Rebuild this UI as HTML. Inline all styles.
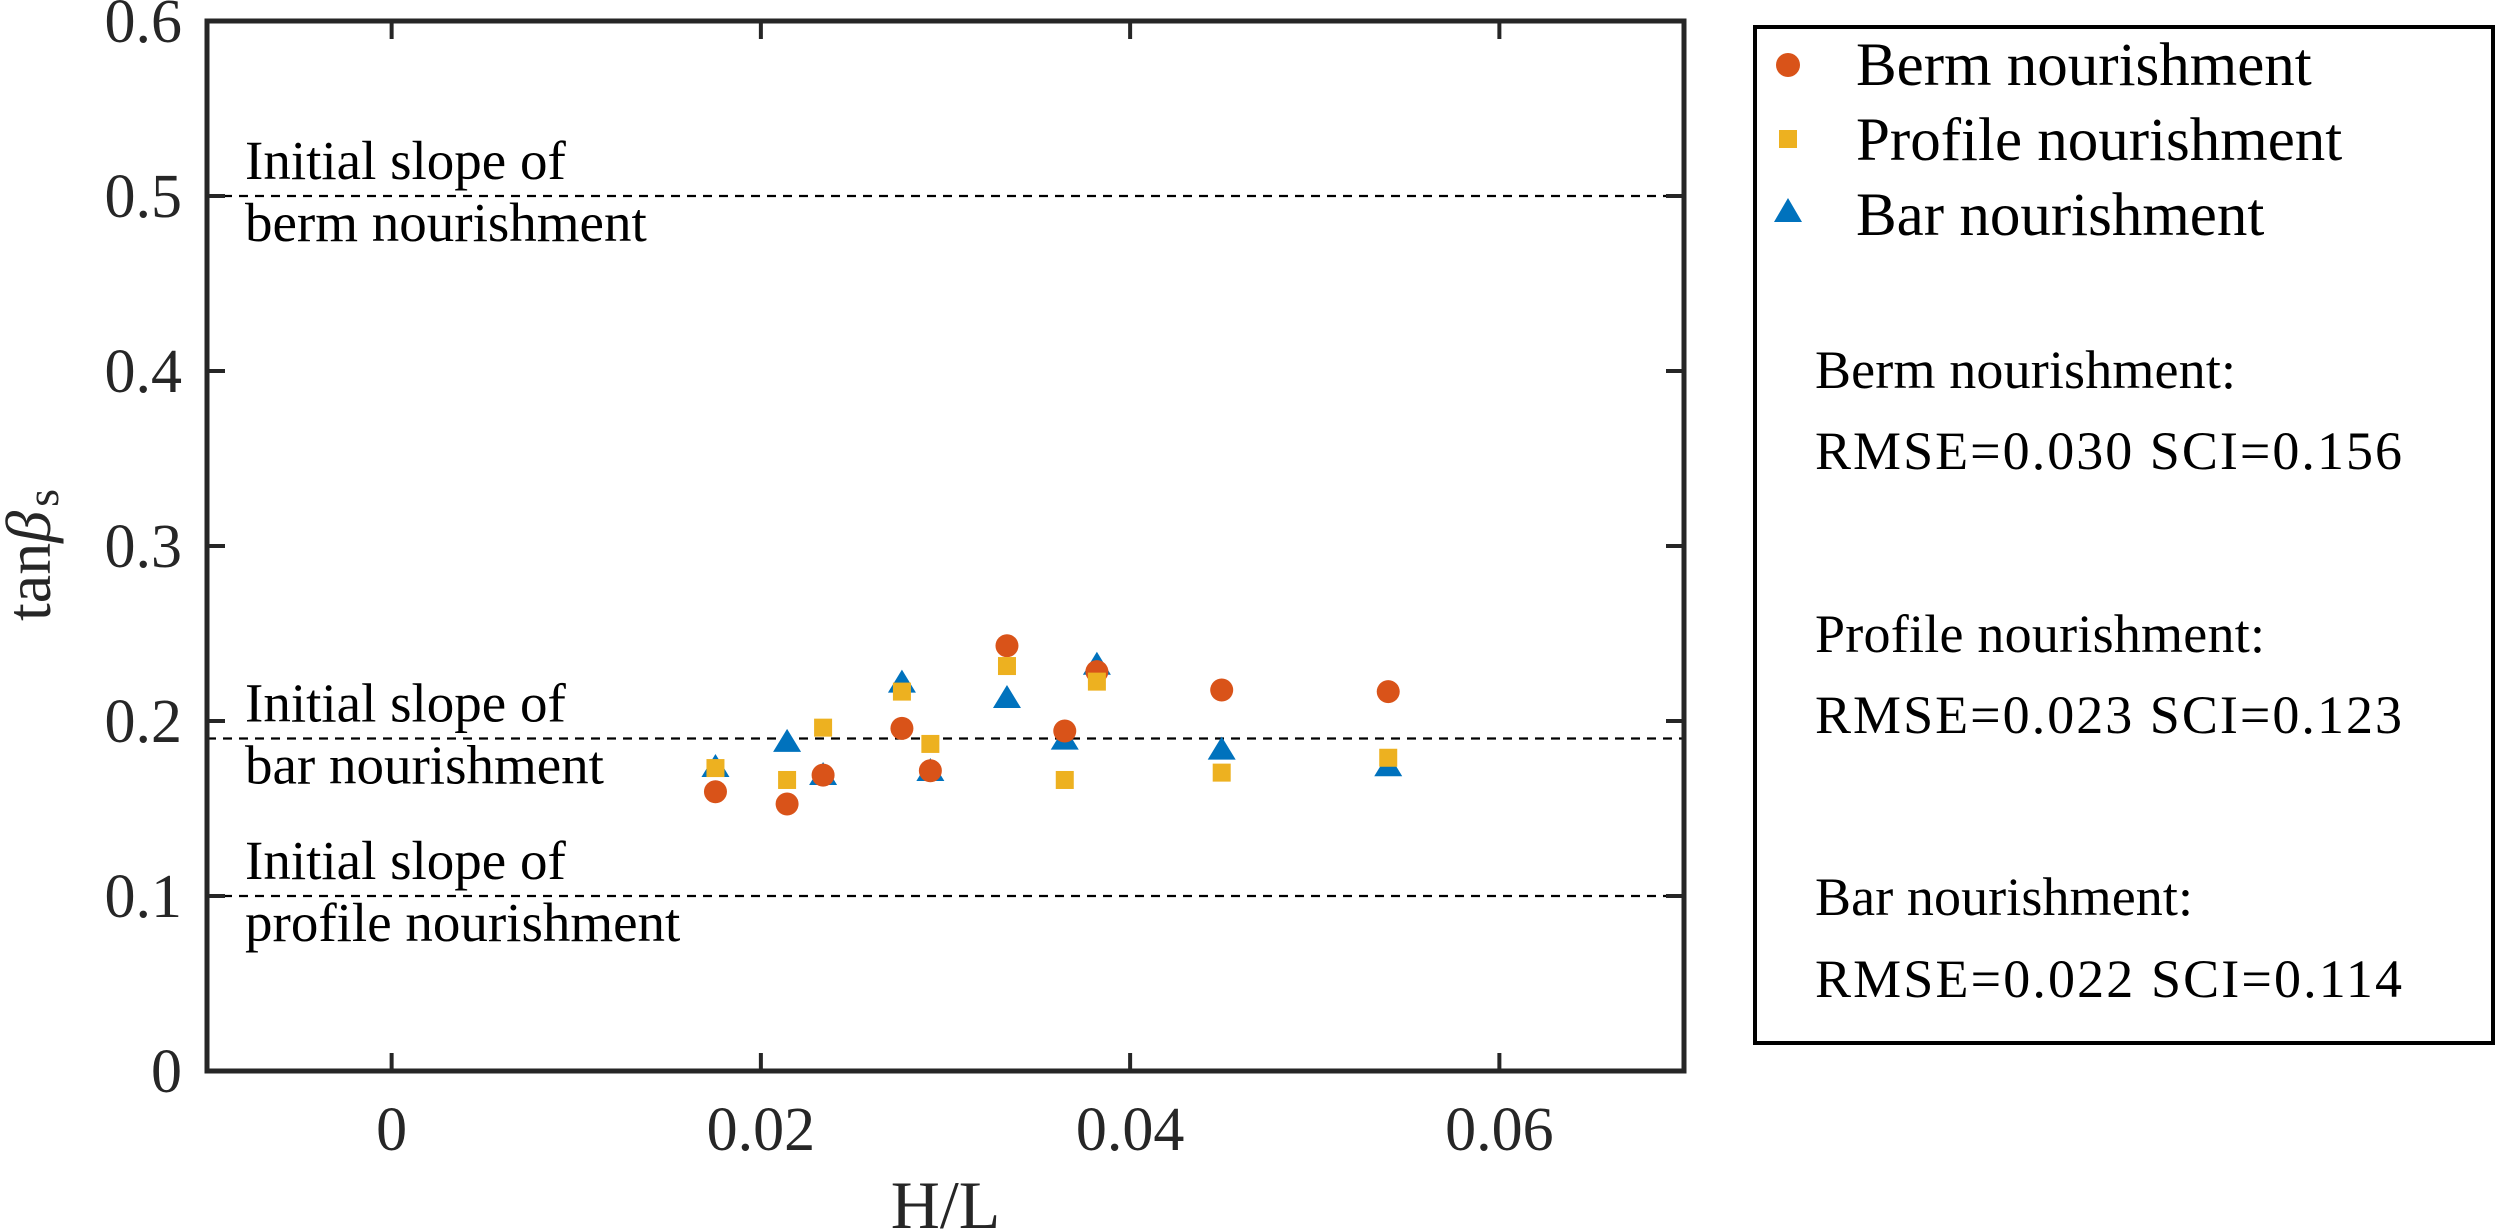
<!DOCTYPE html>
<html><head><meta charset="utf-8"><style>
html,body{margin:0;padding:0;background:#fff;}
svg{display:block;font-family:"Liberation Serif",serif;}
</style></head><body>
<svg id="chart" width="2500" height="1232" viewBox="0 0 2500 1232" xmlns="http://www.w3.org/2000/svg">
<g id="plot"></g>
<g id="legend">
  <rect x="1755" y="27" width="738" height="1016" fill="#fff" stroke="#000" stroke-width="4"/>
  <circle cx="1788" cy="65" r="12" fill="#D95319"/>
  <text x="1856" y="85" font-size="61">Berm nourishment</text>
  <rect x="1779" y="130" width="18" height="18" fill="#EDB120"/>
  <text x="1856" y="160" font-size="61">Profile nourishment</text>
  <polygon points="1788,198 1802,222 1774,222" fill="#0072BD"/>
  <text x="1856" y="235" font-size="61">Bar nourishment</text>
  <text x="1815" y="388" font-size="54" textLength="421">Berm nourishment:</text>
  <text x="1815" y="469" font-size="54" textLength="587">RMSE=0.030 SCI=0.156</text>
  <text x="1815" y="652" font-size="54" textLength="450">Profile nourishment:</text>
  <text x="1815" y="733" font-size="54" textLength="587">RMSE=0.023 SCI=0.123</text>
  <text x="1815" y="915" font-size="54" textLength="378">Bar nourishment:</text>
  <text x="1815" y="997" font-size="54" textLength="587">RMSE=0.022 SCI=0.114</text>
</g>
</svg>
<script>
const xVals = [0.01754, 0.02142, 0.02337, 0.02764, 0.02918, 0.03333, 0.03646, 0.0382, 0.04496, 0.05398];
const bermVals = [0.1596, 0.1526, 0.1691, 0.1958, 0.1716, 0.2430, 0.1943, 0.2282, 0.2177, 0.2168];
const profileVals = [0.1731, 0.1663, 0.1962, 0.2168, 0.1869, 0.2314, 0.1663, 0.2225, 0.1705, 0.1790];
const barVals = [0.1726, 0.1869, 0.1680, 0.2208, 0.1703, 0.2120, 0.1882, 0.2310, 0.1825, 0.1730];
const xTicks = [0, 0.02, 0.04, 0.06];
const xTickLabels = ["0", "0.02", "0.04", "0.06"];
const yTicks = [0, 0.1, 0.2, 0.3, 0.4, 0.5, 0.6];
const yTickLabels = ["0", "0.1", "0.2", "0.3", "0.4", "0.5", "0.6"];
const refSlopes = [0.5, 0.19, 0.1];
const refLine1 = ["Initial slope of", "Initial slope of", "Initial slope of"];
const refLine2 = ["berm nourishment", "bar nourishment", "profile nourishment"];

const NS = "http://www.w3.org/2000/svg";
const L = 207, R = 1684, T = 21, B = 1071;
const xMin = -0.01, xMax = 0.07, yMin = 0, yMax = 0.6;
const sx = v => L + (v - xMin) / (xMax - xMin) * (R - L);
const sy = v => B - (v - yMin) / (yMax - yMin) * (B - T);
const plot = document.getElementById('plot');
function mk(tag, attrs, parent) {
  const e = document.createElementNS(NS, tag);
  for (const k in attrs) e.setAttribute(k, attrs[k]);
  (parent || plot).appendChild(e);
  return e;
}
// reference lines and labels
refSlopes.forEach((s, i) => {
  const ln = mk('line', {x1: L, x2: R, y1: sy(s), y2: sy(s), stroke: '#000', 'stroke-width': 2.2, 'stroke-dasharray': '9 7'});
  
  
  const t1 = mk('text', {x: 245, y: sy(s) - 17, 'font-size': 55});
  t1.textContent = refLine1[i];
  
  
  const t2 = mk('text', {x: 245, y: sy(s) + 45, 'font-size': 55});
  t2.textContent = refLine2[i];
  
  
});
// axes box
const box = mk('rect', {x: L, y: T, width: R - L, height: B - T, fill: 'none', stroke: '#262626', 'stroke-width': 5});


xTicks.forEach((v, i) => {
  const x = sx(v);
  mk('line', {x1: x, x2: x, y1: B, y2: B - 18, stroke: '#262626', 'stroke-width': 4});
  mk('line', {x1: x, x2: x, y1: T, y2: T + 18, stroke: '#262626', 'stroke-width': 4});
  const t = mk('text', {x: x, y: 1150, 'font-size': 62, 'text-anchor': 'middle', fill: '#262626'});
  t.textContent = xTickLabels[i];
  
  
});
yTicks.forEach((v, i) => {
  const y = sy(v);
  mk('line', {x1: L, x2: L + 18, y1: y, y2: y, stroke: '#262626', 'stroke-width': 4});
  mk('line', {x1: R, x2: R - 18, y1: y, y2: y, stroke: '#262626', 'stroke-width': 4});
  const t = mk('text', {x: 182, y: y + 21, 'font-size': 62, 'text-anchor': 'end', fill: '#262626'});
  t.textContent = yTickLabels[i];
  
  
});
const xt = mk('text', {x: (L + R) / 2, y: 1228, 'font-size': 68, 'text-anchor': 'middle', fill: '#262626'});
xt.textContent = 'H/L';


const yt = mk('text', {x: 0, y: 0, 'font-size': 64, 'text-anchor': 'middle', fill: '#262626', transform: 'translate(50,555) rotate(-90)'});
yt.innerHTML = 'tan<tspan font-style="italic">β</tspan><tspan font-size="46" dy="-4" dx="4" baseline-shift="-12">s</tspan>';


// markers: triangles, circles, squares
xVals.forEach((xv, i) => {
  const x = sx(xv), y = sy(barVals[i]);
  const p = mk('polygon', {points: `${x},${y - 15} ${x + 14},${y + 8} ${x - 14},${y + 8}`, fill: '#0072BD'});
  
  
});
xVals.forEach((xv, i) => {
  const c = mk('circle', {cx: sx(xv), cy: sy(bermVals[i]), r: 11.5, fill: '#D95319'});
  
  
});
xVals.forEach((xv, i) => {
  const r = mk('rect', {x: sx(xv) - 9, y: sy(profileVals[i]) - 9, width: 18, height: 18, fill: '#EDB120'});
  
  
});
</script>
</body></html>
